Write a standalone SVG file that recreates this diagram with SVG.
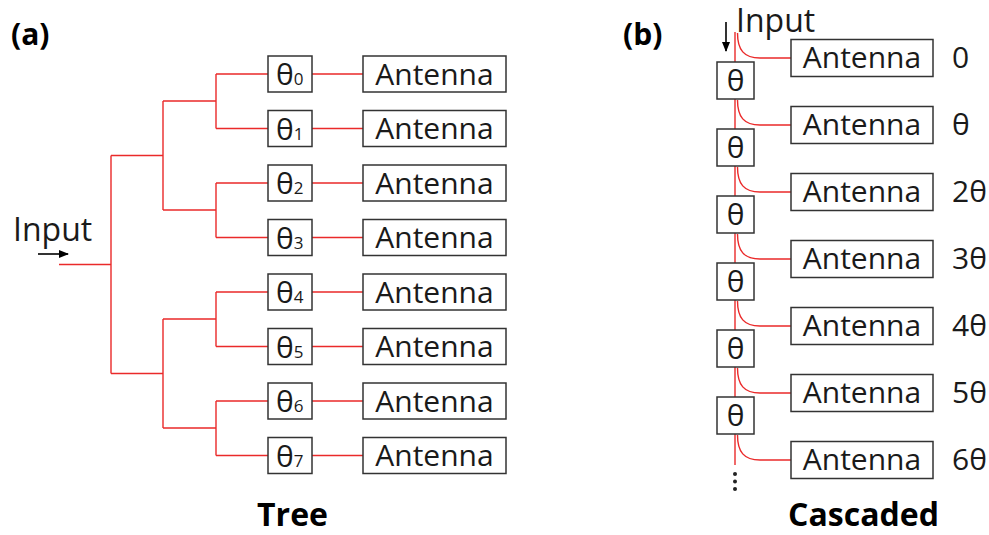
<svg xmlns="http://www.w3.org/2000/svg" width="989" height="535" viewBox="0 0 989 535">
  <defs>
    <marker id="head" viewBox="0 0 10 8" refX="9" refY="4" markerWidth="10" markerHeight="8" markerUnits="userSpaceOnUse" orient="auto">
      <path d="M0,0 L10,4 L0,8 Z" fill="#000"/>
    </marker>
    <style>
      text { font-family: "Open Sans", "Liberation Sans", sans-serif; fill: #1a1a1a; }
      .lbl { font-size: 30px; }
      .inp { font-size: 32px; }
      .ant { font-size: 30px; text-anchor: middle; }
      .ph { font-size: 30px; }
      .sub { font-size: 17px; }
      .title { font-size: 32px; font-weight: bold; fill: #000; }
      .tag { font-size: 30px; font-weight: bold; fill: #000; }
      .box { fill: #fff; stroke: #333; stroke-width: 1.5; }
      .wire { fill: none; stroke: #ea2a2a; stroke-width: 1.4; }
      .arrow { stroke: #000; stroke-width: 1.6; marker-end: url(#head); }
    </style>
  </defs>

  <rect width="989" height="535" fill="#fff"/>

  <!-- panel labels and captions -->
  <text class="tag" x="11" y="45">(a)</text>
  <text class="tag" x="623" y="45">(b)</text>
  <text class="title" x="292.5" y="526" text-anchor="middle">Tree</text>
  <text class="title" x="863.5" y="526" text-anchor="middle">Cascaded</text>

  <!-- (a) tree feed network -->
  <g id="connectors-tree">
    <path class="wire" d="M59,264.5 H111 M111,155.5 V373.5
      M111,155.5 H163 M163,101 V210 M163,101 H216 M163,210 H216
      M216,74 V128.5 M216,74 H268 M216,128.5 H268
      M216,183 V237.5 M216,183 H268 M216,237.5 H268
      M111,373.5 H163 M163,319 V428 M163,319 H216 M163,428 H216
      M216,292 V346.5 M216,292 H268 M216,346.5 H268
      M216,401 V455.5 M216,401 H268 M216,455.5 H268
      M312,74 H363 M312,128.5 H363 M312,183 H363 M312,237.5 H363
      M312,292 H363 M312,346.5 H363 M312,401 H363 M312,455.5 H363"/>
    <line class="arrow" x1="38" y1="254" x2="68" y2="254"/>
  </g>
  <g id="input-a"><text class="inp" x="13" y="241">Input</text></g>

  <g id="phase-0"><rect class="box" x="268" y="56" width="44" height="36"/><text class="ph" x="276" y="85">θ<tspan class="sub">0</tspan></text></g>
  <g id="phase-1"><rect class="box" x="268" y="110.5" width="44" height="36"/><text class="ph" x="276" y="139.5">θ<tspan class="sub">1</tspan></text></g>
  <g id="phase-2"><rect class="box" x="268" y="165" width="44" height="36"/><text class="ph" x="276" y="194">θ<tspan class="sub">2</tspan></text></g>
  <g id="phase-3"><rect class="box" x="268" y="219.5" width="44" height="36"/><text class="ph" x="276" y="248.5">θ<tspan class="sub">3</tspan></text></g>
  <g id="phase-4"><rect class="box" x="268" y="274" width="44" height="36"/><text class="ph" x="276" y="303">θ<tspan class="sub">4</tspan></text></g>
  <g id="phase-5"><rect class="box" x="268" y="328.5" width="44" height="36"/><text class="ph" x="276" y="357.5">θ<tspan class="sub">5</tspan></text></g>
  <g id="phase-6"><rect class="box" x="268" y="383" width="44" height="36"/><text class="ph" x="276" y="412">θ<tspan class="sub">6</tspan></text></g>
  <g id="phase-7"><rect class="box" x="268" y="437.5" width="44" height="36"/><text class="ph" x="276" y="466.5">θ<tspan class="sub">7</tspan></text></g>

  <g id="tree-antenna-0"><rect class="box" x="363" y="56" width="143" height="36"/><text class="ant" x="434.5" y="84.5">Antenna</text></g>
  <g id="tree-antenna-1"><rect class="box" x="363" y="110.5" width="143" height="36"/><text class="ant" x="434.5" y="139">Antenna</text></g>
  <g id="tree-antenna-2"><rect class="box" x="363" y="165" width="143" height="36"/><text class="ant" x="434.5" y="193.5">Antenna</text></g>
  <g id="tree-antenna-3"><rect class="box" x="363" y="219.5" width="143" height="36"/><text class="ant" x="434.5" y="248">Antenna</text></g>
  <g id="tree-antenna-4"><rect class="box" x="363" y="274" width="143" height="36"/><text class="ant" x="434.5" y="302.5">Antenna</text></g>
  <g id="tree-antenna-5"><rect class="box" x="363" y="328.5" width="143" height="36"/><text class="ant" x="434.5" y="357">Antenna</text></g>
  <g id="tree-antenna-6"><rect class="box" x="363" y="383" width="143" height="36"/><text class="ant" x="434.5" y="411.5">Antenna</text></g>
  <g id="tree-antenna-7"><rect class="box" x="363" y="437.5" width="143" height="36"/><text class="ant" x="434.5" y="466">Antenna</text></g>

  <!-- (b) cascaded feed line -->
  <g id="connectors-cascade">
    <path class="wire" d="M735,32 V465"/>
    <path class="wire" d="M737.5,33 C737.5,50 744,58 760,58 H791
      M737.5,100 C737.5,117 744,125 760,125 H791
      M737.5,167 C737.5,184 744,192 760,192 H791
      M737.5,234 C737.5,251 744,259 760,259 H791
      M737.5,301 C737.5,318 744,326 760,326 H791
      M737.5,368 C737.5,385 744,393 760,393 H791
      M737.5,435 C737.5,452 744,460 760,460 H791"/>
    <line class="arrow" x1="726" y1="22" x2="726" y2="51"/>
  </g>
  <g id="input-b"><text class="inp" x="736" y="32">Input</text></g>

  <g id="delay-0"><rect class="box" x="717" y="62" width="37" height="37"/><text class="ph" x="735.5" y="91" text-anchor="middle">θ</text></g>
  <g id="delay-1"><rect class="box" x="717" y="129" width="37" height="37"/><text class="ph" x="735.5" y="158" text-anchor="middle">θ</text></g>
  <g id="delay-2"><rect class="box" x="717" y="196" width="37" height="37"/><text class="ph" x="735.5" y="225" text-anchor="middle">θ</text></g>
  <g id="delay-3"><rect class="box" x="717" y="263" width="37" height="37"/><text class="ph" x="735.5" y="292" text-anchor="middle">θ</text></g>
  <g id="delay-4"><rect class="box" x="717" y="330" width="37" height="37"/><text class="ph" x="735.5" y="359" text-anchor="middle">θ</text></g>
  <g id="delay-5"><rect class="box" x="717" y="397" width="37" height="37"/><text class="ph" x="735.5" y="426" text-anchor="middle">θ</text></g>

  <g id="ellipsis">
    <circle cx="735" cy="474" r="2" fill="#222"/>
    <circle cx="735" cy="481.5" r="2" fill="#222"/>
    <circle cx="735" cy="489" r="2" fill="#222"/>
  </g>

  <g id="cascade-antenna-0"><rect class="box" x="791" y="39.5" width="142" height="37"/><text class="ant" x="862" y="68">Antenna</text><text class="lbl" x="952" y="68">0</text></g>
  <g id="cascade-antenna-1"><rect class="box" x="791" y="106.5" width="142" height="37"/><text class="ant" x="862" y="135">Antenna</text><text class="lbl" x="952" y="135">θ</text></g>
  <g id="cascade-antenna-2"><rect class="box" x="791" y="173.5" width="142" height="37"/><text class="ant" x="862" y="202">Antenna</text><text class="lbl" x="952" y="202">2θ</text></g>
  <g id="cascade-antenna-3"><rect class="box" x="791" y="240.5" width="142" height="37"/><text class="ant" x="862" y="269">Antenna</text><text class="lbl" x="952" y="269">3θ</text></g>
  <g id="cascade-antenna-4"><rect class="box" x="791" y="307.5" width="142" height="37"/><text class="ant" x="862" y="336">Antenna</text><text class="lbl" x="952" y="336">4θ</text></g>
  <g id="cascade-antenna-5"><rect class="box" x="791" y="374.5" width="142" height="37"/><text class="ant" x="862" y="403">Antenna</text><text class="lbl" x="952" y="403">5θ</text></g>
  <g id="cascade-antenna-6"><rect class="box" x="791" y="441.5" width="142" height="37"/><text class="ant" x="862" y="470">Antenna</text><text class="lbl" x="952" y="470">6θ</text></g>
</svg>
